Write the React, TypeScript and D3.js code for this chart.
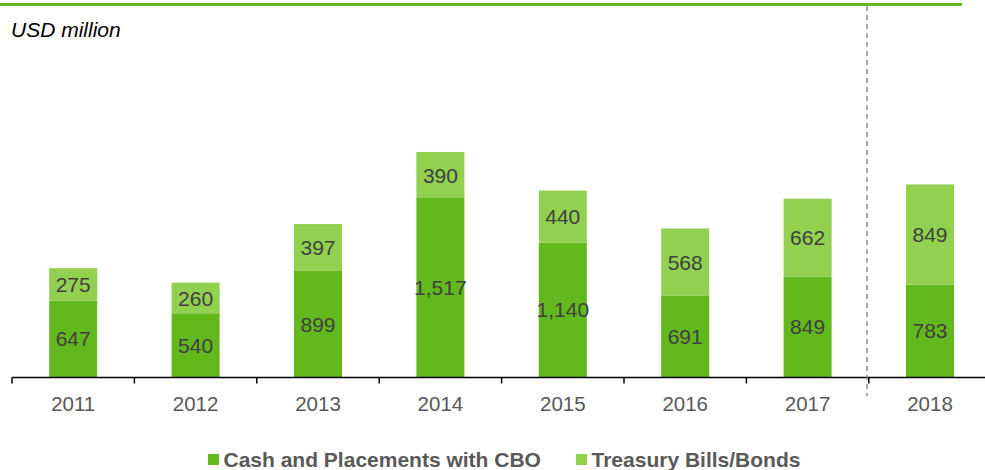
import React, { useEffect, useRef } from 'react';
import * as d3 from 'd3';

const years = ['2011', '2012', '2013', '2014', '2015', '2016', '2017', '2018'];
const cashValues = [647, 540, 899, 1517, 1140, 691, 849, 783];
const treasuryValues = [275, 260, 397, 390, 440, 568, 662, 849];
const seriesNames = ['Cash and Placements with CBO', 'Treasury Bills/Bonds'];

const DARK = '#62B81C';
const LIGHT = '#92D050';
const FONT = '"Liberation Sans", Arial, sans-serif';

const App: React.FC = () => {
  const svgRef = useRef<SVGSVGElement>(null);

  useEffect(() => {
    if (!svgRef.current) return;
    const width = 985;
    const height = 470;
    const svg = d3.select(svgRef.current);
    svg.selectAll('*').remove();
    svg.attr('width', width).attr('height', height);

    const data = years.map((year, i) => ({
      year,
      cash: cashValues[i],
      treasury: treasuryValues[i],
    }));

    const pad = 1 - 48 / 122.4;
    const x = d3.scaleBand<string>()
      .domain(years)
      .range([12, 12 + 122.4 * years.length])
      .paddingInner(pad)
      .paddingOuter(pad / 2);

    const y = d3.scaleLinear().domain([0, 2000]).range([377, 141]);

    // top rule
    svg.append('line')
      .attr('x1', 0).attr('x2', 962)
      .attr('y1', 4.5).attr('y2', 4.5)
      .attr('stroke', DARK)
      .attr('stroke-width', 3);

    svg.append('text')
      .attr('x', 11)
      .attr('y', 37)
      .style('font-family', FONT)
      .style('font-style', 'italic')
      .style('font-size', '21px')
      .style('fill', '#000')
      .text('USD million');

    // bars
    const g = svg.append('g');
    g.selectAll('rect.cash')
      .data(data)
      .join('rect')
      .attr('class', 'cash')
      .attr('x', d => x(d.year)!)
      .attr('width', x.bandwidth())
      .attr('y', d => y(d.cash))
      .attr('height', d => y(0) - y(d.cash))
      .attr('fill', DARK);

    g.selectAll('rect.treasury')
      .data(data)
      .join('rect')
      .attr('class', 'treasury')
      .attr('x', d => x(d.year)!)
      .attr('width', x.bandwidth())
      .attr('y', d => y(d.cash + d.treasury))
      .attr('height', d => y(d.cash) - y(d.cash + d.treasury))
      .attr('fill', LIGHT);

    const fmt = d3.format(',');
    const labelStyle = (sel: any) => sel
      .attr('text-anchor', 'middle')
      .attr('dy', '0.36em')
      .style('font-family', FONT)
      .style('font-size', '21px')
      .style('fill', '#404040');

    g.selectAll('text.cash')
      .data(data)
      .join('text')
      .attr('class', 'cash')
      .attr('x', d => x(d.year)! + x.bandwidth() / 2)
      .attr('y', d => (y(0) + y(d.cash)) / 2)
      .call(labelStyle)
      .text(d => fmt(d.cash));

    g.selectAll('text.treasury')
      .data(data)
      .join('text')
      .attr('class', 'treasury')
      .attr('x', d => x(d.year)! + x.bandwidth() / 2)
      .attr('y', d => (y(d.cash) + y(d.cash + d.treasury)) / 2)
      .call(labelStyle)
      .text(d => fmt(d.treasury));

    // x axis
    const axisY = y(0) + 0.5;
    svg.append('line')
      .attr('x1', 12).attr('x2', width)
      .attr('y1', axisY).attr('y2', axisY)
      .attr('stroke', '#000')
      .attr('stroke-width', 1.5);

    const step = x.step();
    const boundaries = years.map(yr => x(yr)! + x.bandwidth() / 2 - step / 2);
    svg.append('g')
      .selectAll('line')
      .data(boundaries)
      .join('line')
      .attr('x1', d => d).attr('x2', d => d)
      .attr('y1', axisY).attr('y2', axisY + 6)
      .attr('stroke', '#000')
      .attr('stroke-width', 1.5);

    svg.append('g')
      .selectAll('text')
      .data(years)
      .join('text')
      .attr('x', d => x(d)! + x.bandwidth() / 2)
      .attr('y', 411)
      .attr('text-anchor', 'middle')
      .style('font-family', FONT)
      .style('font-size', '20.5px')
      .style('fill', '#595959')
      .text(d => d);

    // forecast divider
    svg.append('line')
      .attr('x1', 867).attr('x2', 867)
      .attr('y1', 6).attr('y2', 396)
      .attr('stroke', '#8C8C8C')
      .attr('stroke-width', 1.5)
      .attr('stroke-dasharray', '5,4');

    // legend
    const legendX = [208, 576];
    const legend = svg.append('g')
      .selectAll('g')
      .data(seriesNames)
      .join('g')
      .attr('transform', (_d, i) => `translate(${legendX[i]},0)`);
    legend.append('rect')
      .attr('x', 0).attr('y', 454)
      .attr('width', 11).attr('height', 11)
      .attr('fill', (_d, i) => (i === 0 ? DARK : LIGHT));
    legend.append('text')
      .attr('x', 15.5)
      .attr('y', 466.5)
      .style('font-family', FONT)
      .style('font-weight', 'bold')
      .style('font-size', '21px')
      .style('fill', '#595959')
      .text(d => d);
  }, []);

  return (
    <div style={{ position: 'absolute', left: 0, top: 0, width: 985, height: 470, background: '#fff' }}>
      <svg ref={svgRef} style={{ display: 'block' }}></svg>
    </div>
  );
};

export default App;
